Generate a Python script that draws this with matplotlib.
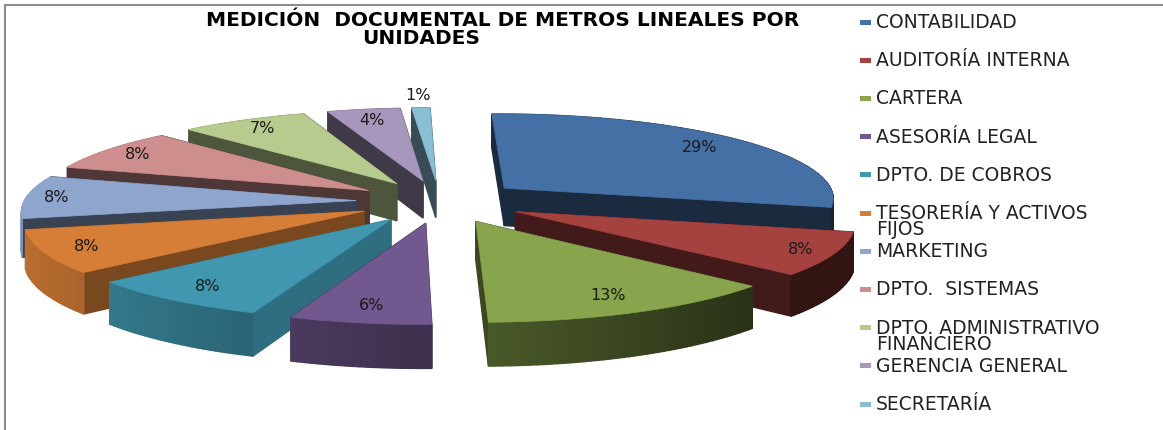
import numpy as np
import matplotlib
matplotlib.use('Agg')
import matplotlib.pyplot as plt
from matplotlib.patches import Polygon, Rectangle
from matplotlib.colors import to_rgb

units = ['CONTABILIDAD', 'AUDITORÍA INTERNA', 'CARTERA', 'ASESORÍA LEGAL',
         'DPTO. DE COBROS', 'TESORERÍA Y ACTIVOS\nFIJOS', 'MARKETING',
         'DPTO.  SISTEMAS', 'DPTO. ADMINISTRATIVO\nFINANCIERO',
         'GERENCIA GENERAL', 'SECRETARÍA']
shares = [29, 8, 13, 6, 8, 8, 8, 8, 7, 4, 1]
colors = ['#4570A6', '#A54240', '#88A44C', '#71588F', '#4097AF', '#D67E37',
          '#8EA5CE', '#CE8E8D', '#B7CB8E', '#A797BD', '#8ABFD3']
# how dark the cut faces of each slice are
face_shade = [.38, .40, .44, .55, .73, .57, .40, .39, .42, .38, .40]
label_pos = [.83, .90, .83, .84, .85, .87, .91, .88, .87, .84, 1.2]

# pie centre and perspective, in pixels
cx, cy = 440, 201.5
rx, ry = 332, 85
persp = .109
explode = .253
depth = 38
start = -1.2

def project(u, v, drop=0.0):
    w = 1 + persp * v
    return cx + rx * u / w, cy - ry * v / w + drop * depth / w

def shade(c, f):
    return tuple(x * f for x in to_rgb(c))

fig = plt.figure(figsize=(11.63, 4.30), dpi=100)
ax = fig.add_axes([0, 0, 1, 1])
ax.set_xlim(0, 1163)
ax.set_ylim(430, 0)
ax.axis('off')

# slice angles, clockwise from the top
ends = np.cumsum(shares) * 3.6
starts = ends - np.array(shares) * 3.6
slices = []
for i in range(len(shares)):
    a0 = np.radians(starts[i] + start)
    a1 = np.radians(ends[i] + start)
    mid = (a0 + a1) / 2
    slices.append((np.cos(mid), i, a0, a1, mid))

# far slices first so the near ones cover them
for v_mid, i, a0, a1, mid in sorted(slices, key=lambda s: -s[0]):
    col = colors[i]
    ox, oy = explode * np.sin(mid), explode * np.cos(mid)
    th = np.linspace(a0, a1, max(int(np.degrees(a1 - a0)), 4))
    us = ox + np.sin(th)
    vs = oy + np.cos(th)

    faces = []
    for a in (a0, a1):
        eu, ev = ox + np.sin(a), oy + np.cos(a)
        pts = [project(ox, oy), project(eu, ev), project(eu, ev, 1), project(ox, oy, 1)]
        faces.append((oy + np.cos(a) / 2, pts, shade(col, face_shade[i])))
    for k in range(len(th) - 1):
        pts = [project(us[k], vs[k]), project(us[k+1], vs[k+1]),
               project(us[k+1], vs[k+1], 1), project(us[k], vs[k], 1)]
        f = np.clip(.55 - .33 * np.sin(th[k]), .3, .9)
        faces.append((vs[k], pts, shade(col, f)))
    for _, pts, c in sorted(faces, key=lambda p: -p[0]):
        ax.add_patch(Polygon(pts, closed=True, fc=c, ec=c, lw=1.0))

    top = [project(ox, oy)] + [project(a, b) for a, b in zip(us, vs)]
    ax.add_patch(Polygon(top, closed=True, fc=col, ec=col, lw=.5))

    r = label_pos[i]
    lx, ly = project(ox + r * np.sin(mid), oy + r * np.cos(mid))
    ax.text(lx, ly, '%d%%' % shares[i], ha='center', va='center',
            fontsize=11.5, color='#1a1a1a')

# title
ax.text(503, 20, 'MEDICIÓN  DOCUMENTAL DE METROS LINEALES POR', ha='center',
        va='center', fontsize=14.5, fontweight='bold', color='black')
ax.text(421, 38, 'UNIDADES', ha='center', va='center', fontsize=14.5,
        fontweight='bold', color='black')

# legend
for i, name in enumerate(units):
    y = 22 + i * 38.2
    ax.add_patch(Rectangle((860, y - 2.5), 11, 5, fc=colors[i], ec='none'))
    ax.text(876, y - 9, name, ha='left', va='top', fontsize=13.5,
            color='#222222', linespacing=.8)

# chart frame
ax.plot([5, 5], [5, 430], color='#8c8c8c', lw=1.5)
ax.plot([5, 1163], [5, 5], color='#8c8c8c', lw=1.5)

plt.savefig('out.png', dpi=100)
